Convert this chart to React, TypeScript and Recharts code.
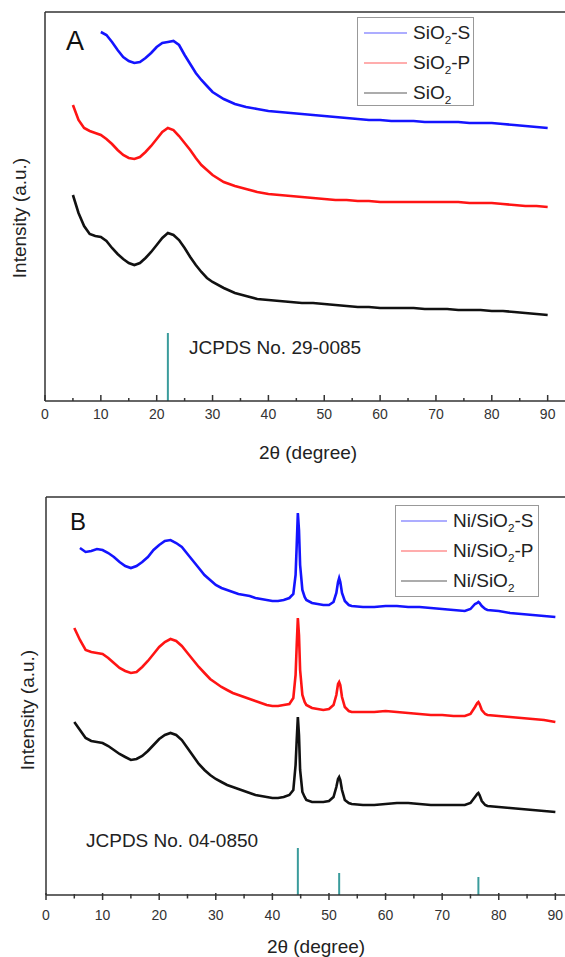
import React from 'react';
import { LineChart, Line, XAxis, YAxis, ReferenceLine } from 'recharts';

// ---- Panel A: SiO2 supports ----
const thetaA = [5, 6, 7, 8, 9, 10, 11, 12, 13, 14, 15, 16, 17, 18, 19, 20, 21, 22, 23, 24, 25, 26, 27, 28, 29, 30,
  32, 34, 36, 38, 40, 42, 44, 46, 48, 50, 52, 54, 56, 58, 60, 62, 64, 66, 68, 70, 72, 74, 76, 78, 80, 82, 84, 86, 88, 90];
const sio2S = [null, null, null, null, null, 369, 366, 359, 351, 344, 340, 338, 339, 343, 348, 354, 358, 359, 360, 356, 346, 337, 328, 321, 315, 309,
  302, 297, 294, 292, 290, 289, 288, 287, 286, 285, 284, 283, 282, 281, 281, 280, 280, 280, 279, 279, 279, 279, 278, 278, 278, 277, 276, 275, 274, 273];
const sio2P = [296, 281, 273, 270, 268, 266, 262, 257, 251, 246, 243, 242, 244, 249, 255, 262, 269, 273, 271, 265, 258, 251, 243, 236, 231, 226,
  219, 215, 212, 209, 207, 206, 205, 204, 203, 202, 201, 201, 200, 200, 199, 199, 199, 199, 199, 199, 199, 199, 198, 198, 198, 197, 196, 195, 195, 194];
const sio2 = [206, 188, 175, 167, 165, 164, 160, 153, 147, 142, 138, 136, 138, 143, 149, 156, 163, 168, 166, 161, 153, 144, 136, 129, 123, 119,
  113, 108, 105, 102, 101, 100, 99, 98, 98, 97, 96, 95, 94, 94, 93, 93, 93, 93, 92, 92, 92, 91, 91, 91, 90, 90, 89, 88, 87, 86];
const jcpdsAPos = [22];
const jcpdsAHeight = [68];

// ---- Panel B: Ni/SiO2 catalysts ----
const thetaB = [5, 6, 7, 8, 9, 10, 11, 12, 13, 14, 15, 16, 17, 18, 19, 20, 21, 22, 23, 24, 25, 26, 27, 28, 29, 30,
  31, 32, 33, 34, 35, 36, 37, 38, 39, 40, 41, 42, 43, 43.7, 44.1, 44.3, 44.5, 44.7, 44.9, 45.3, 45.7, 46, 47, 48, 49, 50,
  50.8, 51.3, 51.6, 51.8, 52, 52.3, 52.8, 53.5, 54, 56, 58, 60, 62, 64, 66, 68, 70, 72, 74,
  75, 75.8, 76.2, 76.4, 76.6, 77, 77.6, 78, 80, 82, 84, 86, 88, 90];
const niS = [null, 347, 343, 344, 346, 345, 342, 338, 333, 329, 327, 329, 333, 338, 345, 350, 354, 355, 352, 348, 341, 334, 327, 320, 315, 310,
  307, 305, 303, 301, 300, 299, 297, 296, 295, 294, 294, 295, 297, 301, 320, 350, 382, 365, 330, 305, 298, 295, 292, 291, 290, 290,
  293, 302, 313, 317, 313, 302, 294, 290, 289, 288, 288, 289, 289, 288, 288, 287, 286, 285, 284,
  286, 291, 292, 293, 292, 289, 286, 285, 284, 282, 281, 280, 279, 278];
const niP = [267, 255, 245, 243, 242, 241, 237, 232, 227, 224, 222, 223, 228, 234, 241, 248, 253, 256, 254, 249, 242, 235, 228, 222, 216, 212,
  208, 205, 202, 200, 198, 196, 194, 192, 190, 189, 189, 190, 191, 197, 220, 250, 277, 260, 225, 200, 193, 190, 187, 186, 185, 186,
  190, 200, 211, 213, 210, 198, 188, 184, 183, 183, 183, 184, 183, 182, 181, 180, 180, 179, 179,
  181, 188, 192, 193, 191, 185, 181, 180, 179, 178, 177, 176, 175, 173];
const ni = [173, 165, 157, 154, 153, 152, 149, 145, 141, 138, 135, 136, 139, 144, 150, 156, 160, 162, 160, 155, 147, 139, 131, 125, 120, 116,
  113, 110, 108, 106, 104, 102, 100, 99, 98, 97, 97, 98, 100, 105, 130, 155, 178, 160, 125, 103, 98, 95, 93, 93, 93, 94,
  98, 108, 116, 118, 115, 105, 95, 92, 91, 90, 90, 91, 92, 92, 91, 90, 90, 90, 90,
  92, 98, 101, 102, 100, 94, 90, 89, 88, 87, 86, 85, 84, 83];
const jcpdsBPos = [44.5, 51.8, 76.4];
const jcpdsBHeight = [47, 22, 18];

const xTicks = [0, 5, 10, 15, 20, 25, 30, 35, 40, 45, 50, 55, 60, 65, 70, 75, 80, 85, 90];

const FONT = 'Arial, "Liberation Sans", sans-serif';
const AXIS = '#333';
const STICK = '#3a9c9c';

const toPoints = (t: number[], v: (number | null)[]) =>
  t.map((x, i) => ({ t: x, v: v[i] })).filter(p => p.v !== null);

const makeTick = (up: number, down: number, labelDy: number) => (props: any) => {
  const { x, y, payload } = props;
  const major = payload.value % 10 === 0;
  return (
    <g>
      <line x1={x} x2={x} y1={y - (major ? up : up / 2)} y2={y + (major ? down : down * 0.7)} stroke={AXIS} strokeWidth={1.5} />
      {major && (
        <text x={x} y={y + labelDy} textAnchor="middle" fontSize={14} fill="#333" fontFamily={FONT}>
          {payload.value}
        </text>
      )}
    </g>
  );
};

const TickA = makeTick(6, 0, 18);
const TickB = makeTick(2, 5, 25);

const Sub = ({ children }: { children: React.ReactNode }) => (
  <span style={{ fontSize: '0.62em', position: 'relative', top: '0.45em' }}>{children}</span>
);

const LegendRow = ({ color, children, lineW }: { color: string; children: React.ReactNode; lineW: number }) => (
  <div style={{ display: 'flex', alignItems: 'center', height: 30 }}>
    <div style={{ width: lineW, height: 2, background: color, opacity: 0.35, marginRight: 6, flex: 'none' }} />
    <span style={{ fontSize: 19, color: '#222', lineHeight: '19px' }}>{children}</span>
  </div>
);

const abs = (left: number, top: number, extra: React.CSSProperties = {}): React.CSSProperties => ({
  position: 'absolute', left, top, whiteSpace: 'nowrap', ...extra,
});

interface PanelProps {
  theta: number[];
  series: { values: (number | null)[]; color: string }[];
  sticks: { pos: number[]; height: number[] };
  yMax: number;
  height: number;
  margin: { top: number; right: number; bottom: number; left: number };
  tick: (p: any) => React.ReactElement;
}

const Panel: React.FC<PanelProps> = ({ theta, series, sticks, yMax, height, margin, tick }) => (
  <LineChart width={600} height={height} margin={margin}>
    <XAxis
      dataKey="t"
      type="number"
      domain={[0, 94]}
      ticks={xTicks}
      interval={0}
      tick={tick}
      tickLine={false}
      tickSize={0}
      tickMargin={0}
      height={40}
      axisLine={{ stroke: AXIS, strokeWidth: 1.5 }}
      allowDataOverflow
    />
    <YAxis type="number" domain={[0, yMax]} hide allowDataOverflow />
    <ReferenceLine x={0} stroke={AXIS} strokeWidth={1.5} />
    <ReferenceLine y={yMax} stroke={AXIS} strokeWidth={1.5} />
    {sticks.pos.map((p, i) => (
      <ReferenceLine key={p} segment={[{ x: p, y: 0 }, { x: p, y: sticks.height[i] }]} stroke={STICK} strokeWidth={2} />
    ))}
    {series.map((s, i) => (
      <Line
        key={i}
        data={toPoints(theta, s.values)}
        dataKey="v"
        type="linear"
        stroke={s.color}
        strokeWidth={2.6}
        dot={false}
        isAnimationActive={false}
      />
    ))}
  </LineChart>
);

export default function App() {
  return (
    <div style={{ position: 'absolute', left: 0, top: 0, width: 565, height: 957, overflow: 'hidden', background: '#fff', fontFamily: FONT }}>
      {/* Panel A */}
      <div style={abs(0, 0)}>
        <Panel
          theta={thetaA}
          series={[
            { values: sio2S, color: '#1414ff' },
            { values: sio2P, color: '#ff1414' },
            { values: sio2, color: '#111' },
          ]}
          sticks={{ pos: jcpdsAPos, height: jcpdsAHeight }}
          yMax={389}
          height={470}
          margin={{ top: 12, right: 30, bottom: 29, left: 45 }}
          tick={TickA}
        />
      </div>
      <div style={abs(66, 26, { fontSize: 27, color: '#111' })}>A</div>
      <div style={abs(20, 218, { fontSize: 19, color: '#222', transform: 'translate(-50%, -50%) rotate(-90deg)' })}>Intensity (a.u.)</div>
      <div style={abs(308, 453, { fontSize: 19, color: '#222', transform: 'translate(-50%, -50%)' })}>2θ (degree)</div>
      <div style={abs(189, 337, { fontSize: 19, color: '#222' })}>JCPDS No. 29-0085</div>
      <div style={abs(357, 17, { width: 117, height: 89, border: '1.5px solid #999', padding: '0 0 0 6px', boxSizing: 'border-box' })}>
        <LegendRow color="#1414ff" lineW={43}>SiO<Sub>2</Sub>-S</LegendRow>
        <LegendRow color="#ff1414" lineW={43}>SiO<Sub>2</Sub>-P</LegendRow>
        <LegendRow color="#111" lineW={43}>SiO<Sub>2</Sub></LegendRow>
      </div>

      {/* Panel B */}
      <div style={abs(0, 485)}>
        <Panel
          theta={thetaB}
          series={[
            { values: niS, color: '#1414ff' },
            { values: niP, color: '#ff1414' },
            { values: ni, color: '#111' },
          ]}
          sticks={{ pos: jcpdsBPos, height: jcpdsBHeight }}
          yMax={398}
          height={472}
          margin={{ top: 12, right: 22, bottom: 22, left: 46 }}
          tick={TickB}
        />
      </div>
      <div style={abs(70, 508, { fontSize: 24, color: '#111' })}>B</div>
      <div style={abs(28, 710, { fontSize: 19, color: '#222', transform: 'translate(-50%, -50%) rotate(-90deg)' })}>Intensity (a.u.)</div>
      <div style={abs(316, 947, { fontSize: 19, color: '#222', transform: 'translate(-50%, -50%)' })}>2θ (degree)</div>
      <div style={abs(86, 830, { fontSize: 19, color: '#222' })}>JCPDS No. 04-0850</div>
      <div style={abs(395, 505, { width: 144, height: 92, border: '1.5px solid #999', padding: '0 0 0 5px', boxSizing: 'border-box' })}>
        <LegendRow color="#1414ff" lineW={46}>Ni/SiO<Sub>2</Sub>-S</LegendRow>
        <LegendRow color="#ff1414" lineW={46}>Ni/SiO<Sub>2</Sub>-P</LegendRow>
        <LegendRow color="#111" lineW={46}>Ni/SiO<Sub>2</Sub></LegendRow>
      </div>
    </div>
  );
}
